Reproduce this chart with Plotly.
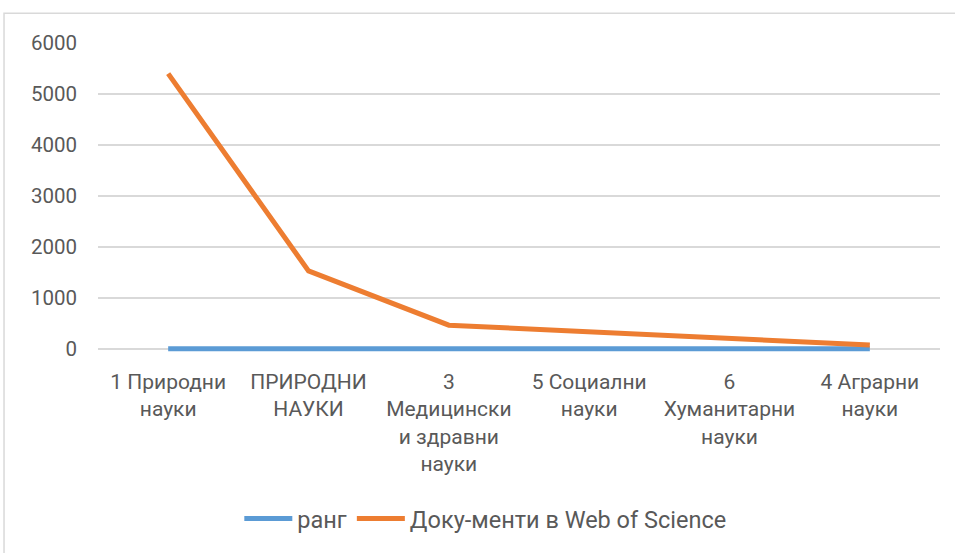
import plotly.graph_objects as go

categories = [
    "1 Природни<br>науки",
    "ПРИРОДНИ<br>НАУКИ",
    "3<br>Медицински<br>и здравни<br>науки",
    "5 Социални<br>науки",
    "6<br>Хуманитарни<br>науки",
    "4 Аграрни<br>науки",
]
rank_values = [1, 2, 3, 5, 6, 4]
wos_docs = [5400, 1530, 465, 335, 200, 75]
y_ticks = [0, 1000, 2000, 3000, 4000, 5000, 6000]

FONT = "Roboto, 'Open Sans', sans-serif"
TXT = "#595959"

fig = go.Figure()
fig.add_trace(go.Scatter(x=categories, y=rank_values, mode="lines", name="ранг",
                         line=dict(color="#5B9BD5", width=5)))
fig.add_trace(go.Scatter(x=categories, y=wos_docs, mode="lines", name="Доку-менти в Web of Science",
                         line=dict(color="#ED7D31", width=5)))

fig.update_layout(
    width=955, height=553,
    margin=dict(l=98, r=15, t=43, b=197),
    paper_bgcolor="white", plot_bgcolor="white",
    font=dict(family=FONT, size=21, color=TXT),
    showlegend=True,
    legend=dict(orientation="h", x=0.46, xanchor="center", y=-0.530, yanchor="middle",
                font=dict(family=FONT, size=23.5, color=TXT), itemwidth=48),
    xaxis=dict(showgrid=False, showline=False, zeroline=False, ticks="",
               range=[-0.5, 5.5], ticklabelstandoff=13,
               tickfont=dict(family=FONT, size=21, color=TXT), tickangle=0),
    yaxis=dict(range=[-100, 6000], tickvals=y_ticks, showgrid=True, gridcolor="#D9D9D9",
               gridwidth=1.5, zeroline=False, showline=False, ticks="",
               ticklabelstandoff=20,
               tickfont=dict(family=FONT, size=20.5, color=TXT)),
    shapes=[dict(type="rect", xref="paper", yref="paper",
                 x0=-0.1116, x1=1.03, y0=-0.66, y1=1.0958,
                 line=dict(color="#D9D9D9", width=1.5), fillcolor="rgba(0,0,0,0)", layer="below")],
)

fig.write_html("out.html", config={"displayModeBar": False},
               post_script="document.body.style.margin='0';document.body.style.overflow='hidden';")
